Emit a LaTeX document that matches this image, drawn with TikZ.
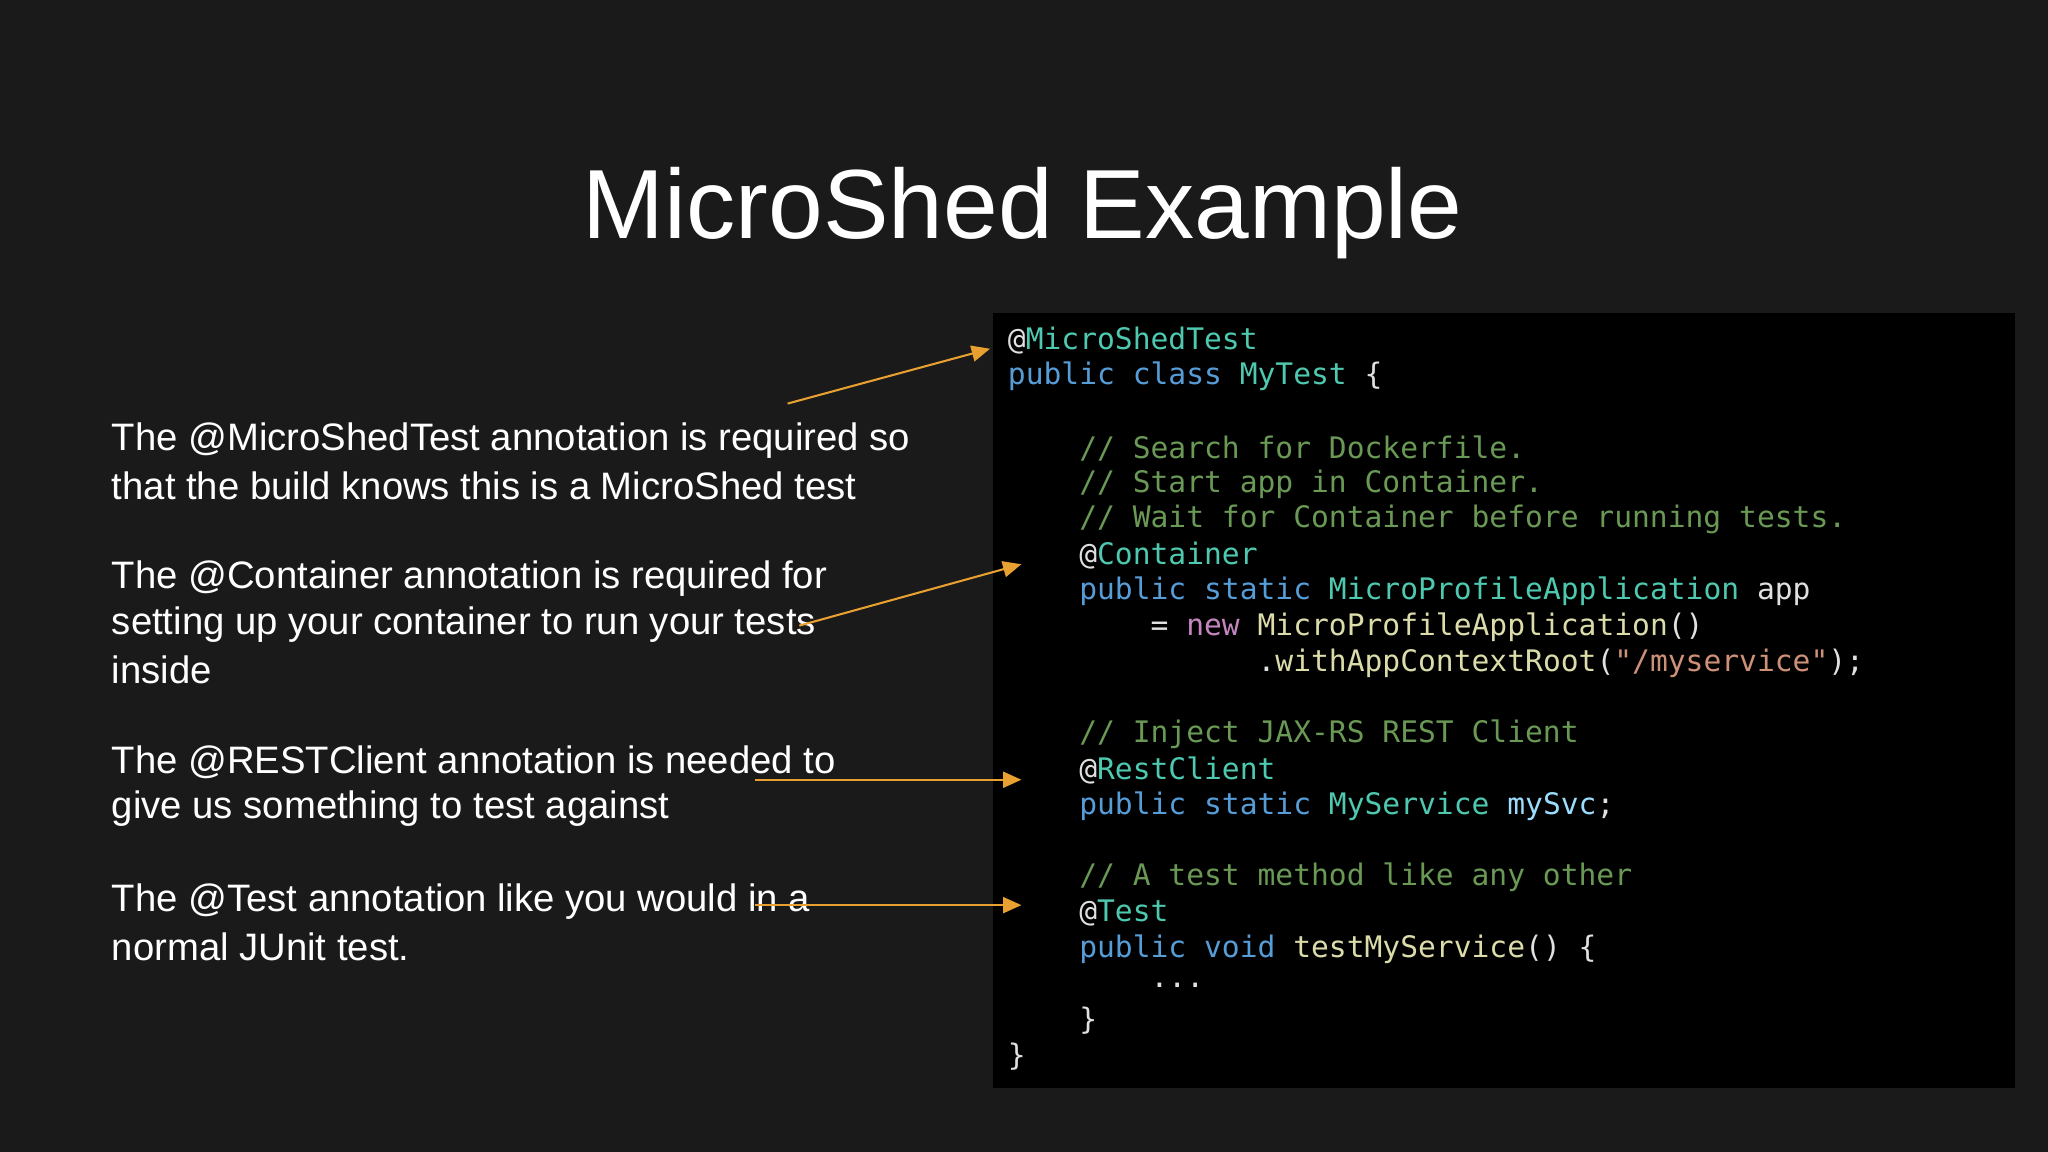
\documentclass[tikz,border=0pt]{standalone}
\usepackage{fontspec}
\setmainfont{Liberation Sans}
\setmonofont{DejaVu Sans Mono}
\usetikzlibrary{arrows.meta}
\definecolor{bg}{HTML}{1A1A1A}
\definecolor{ann}{HTML}{4EC9B0}
\definecolor{kw}{HTML}{569CD6}
\definecolor{cm}{HTML}{6A9955}
\definecolor{ty}{HTML}{4EC9B0}
\definecolor{pu}{HTML}{C586C0}
\definecolor{st}{HTML}{CE9178}
\definecolor{fn}{HTML}{DCDCAA}
\definecolor{va}{HTML}{9CDCFE}
\definecolor{ar}{HTML}{E8A030}
\newcommand{\ind}[1]{\hspace*{#1\fontcharwd\font`x}}
\tikzset{
  body/.style={anchor=west,text=white,font=\fontsize{8.33}{9.96}\selectfont,align=left,inner sep=0},
  codeline/.style={anchor=west,text=white!88!black,font=\ttfamily\fontsize{6.45}{7.8}\selectfont,inner sep=0},
  callout/.style={draw=ar,line width=0.45pt,-{Triangle[length=4pt,width=3.5pt]}}
}
\begin{document}
\begin{tikzpicture}[x=0.01cm,y=-0.01cm]
\fill[bg] (0,0) rectangle (1568,882);
\useasboundingbox (0,0) rectangle (1568,882);
\node[text=white,font=\fontsize{21.4}{25}\selectfont,inner sep=0] (title) at (783,163) {MicroShed Example};
\fill[black] (760,240) rectangle (1543,833);
\node[body] (t1a) at (85,337) {The @MicroShedTest annotation is required so};
\node[body] (t1b) at (85,372) {that the build knows this is a MicroShed test};
\node[body] (t2a) at (85,443) {The @Container annotation is required for};
\node[body] (t2b) at (85,478) {setting up your container to run your tests};
\node[body] (t2c) at (85,513) {inside};
\node[body] (t3a) at (85,584) {The @RESTClient annotation is needed to};
\node[body] (t3b) at (85,619) {give us something to test against};
\node[body] (t4a) at (85,690) {The @Test annotation like you would in a};
\node[body] (t4b) at (85,725) {normal JUnit test.};
\node[codeline] (c1) at (771,261) {@\textcolor{ann}{MicroShedTest}};
\node[codeline] (c2) at (771,288.4) {\textcolor{kw}{public class} \textcolor{ty}{MyTest} \{};
\node[codeline] (c4) at (771,343.2) {\ind{4}\textcolor{cm}{// Search for Dockerfile.}};
\node[codeline] (c5) at (771,370.6) {\ind{4}\textcolor{cm}{// Start app in Container.}};
\node[codeline] (c6) at (771,398) {\ind{4}\textcolor{cm}{// Wait for Container before running tests.}};
\node[codeline] (c7) at (771,425.4) {\ind{4}@\textcolor{ann}{Container}};
\node[codeline] (c8) at (771,452.8) {\ind{4}\textcolor{kw}{public static} \textcolor{ty}{MicroProfileApplication} app};
\node[codeline] (c9) at (771,480.2) {\ind{8}= \textcolor{pu}{new} \textcolor{fn}{MicroProfileApplication}()};
\node[codeline] (c10) at (771,507.6) {\ind{14}.\textcolor{fn}{withAppContextRoot}(\textcolor{st}{"/myservice"});};
\node[codeline] (c12) at (771,562.4) {\ind{4}\textcolor{cm}{// Inject JAX-RS REST Client}};
\node[codeline] (c13) at (771,589.8) {\ind{4}@\textcolor{ann}{RestClient}};
\node[codeline] (c14) at (771,617.2) {\ind{4}\textcolor{kw}{public static} \textcolor{ty}{MyService} \textcolor{va}{mySvc};};
\node[codeline] (c16) at (771,672) {\ind{4}\textcolor{cm}{// A test method like any other}};
\node[codeline] (c17) at (771,699.4) {\ind{4}@\textcolor{ann}{Test}};
\node[codeline] (c18) at (771,726.8) {\ind{4}\textcolor{kw}{public void} \textcolor{fn}{testMyService}() \{};
\node[codeline] (c19) at (771,754.2) {\ind{8}...};
\node[codeline] (c20) at (771,781.6) {\ind{4}\}};
\node[codeline] (c21) at (771,809) {\}};
\coordinate (s1) at (603,309); \coordinate (e1) at (758,267);
\coordinate (s2) at (612,479); \coordinate (e2) at (782,432);
\coordinate (s3) at (578,597); \coordinate (e3) at (782,597);
\coordinate (s4) at (578,693); \coordinate (e4) at (782,693);
\draw[callout] (s1) -- (e1);
\draw[callout] (s2) -- (e2);
\draw[callout] (s3) -- (e3);
\draw[callout] (s4) -- (e4);
\end{tikzpicture}
\end{document}
